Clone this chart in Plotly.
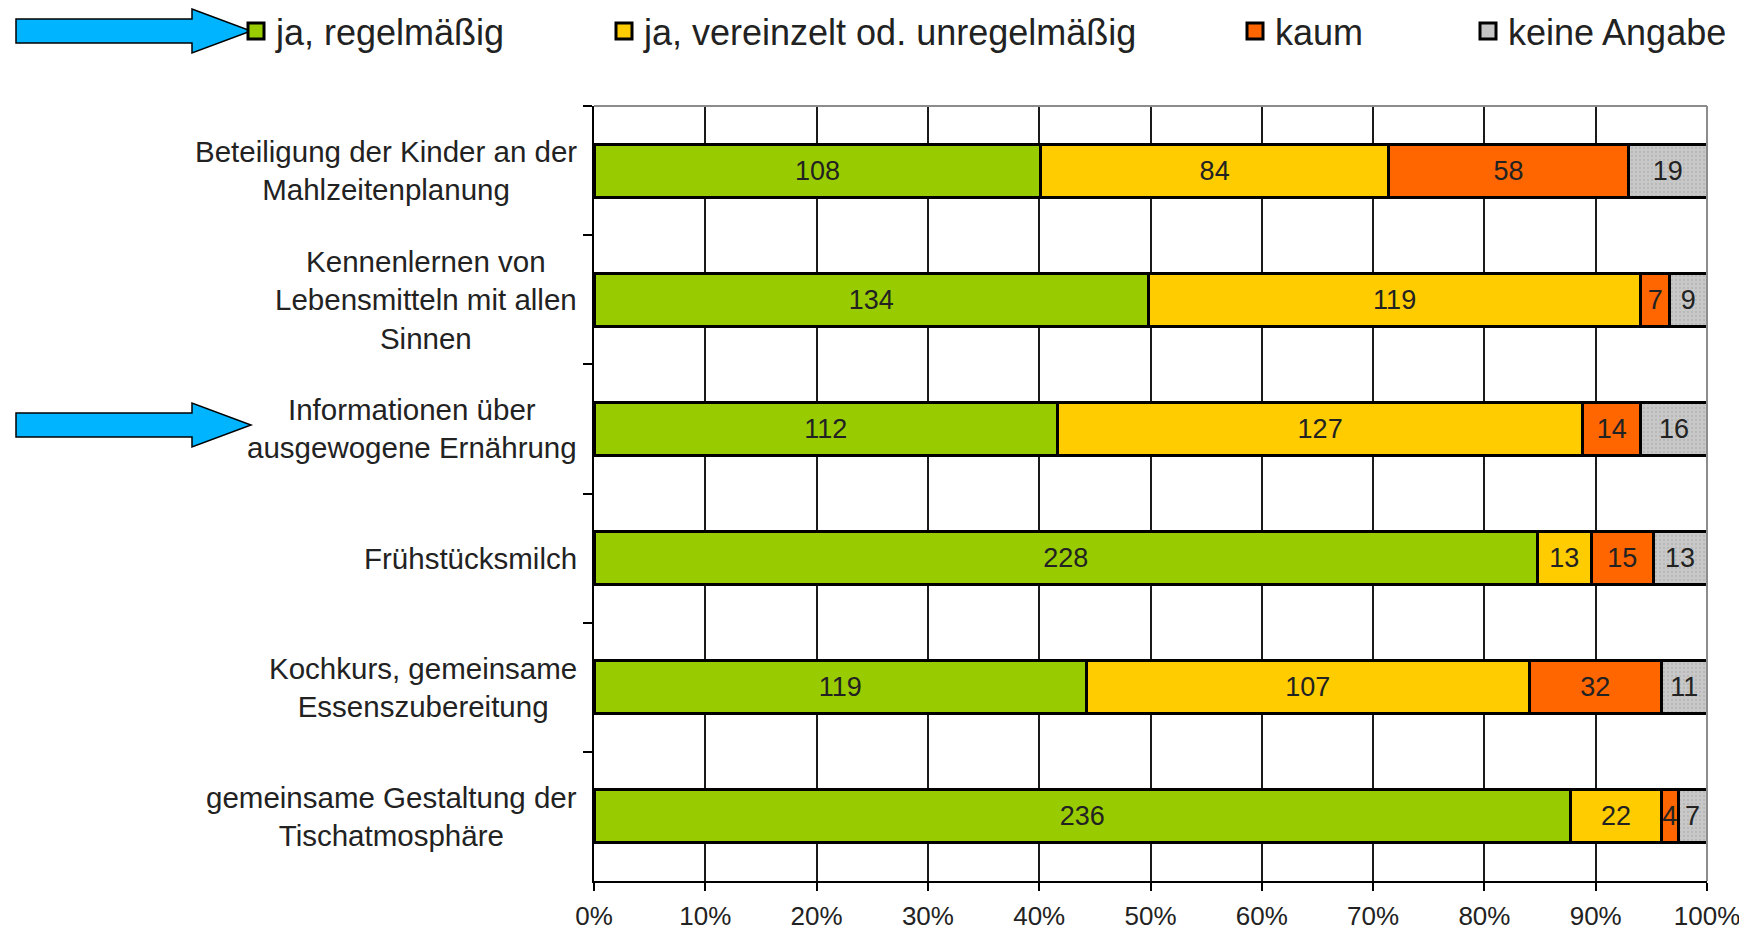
import plotly.graph_objects as go

# ---------------- data ----------------
categories = [
    "Beteiligung der Kinder an der<br>Mahlzeitenplanung",
    "Kennenlernen von<br>Lebensmitteln mit allen<br>Sinnen",
    "Informationen über<br>ausgewogene Ernährung",
    "Frühstücksmilch",
    "Kochkurs, gemeinsame<br>Essenszubereitung",
    "gemeinsame Gestaltung der<br>Tischatmosphäre",
]
series_names = ["ja, regelmäßig", "ja, vereinzelt od. unregelmäßig", "kaum", "keine Angabe"]
regelmaessig = [108, 134, 112, 228, 119, 236]
vereinzelt = [84, 119, 127, 13, 107, 22]
kaum = [58, 7, 14, 15, 32, 4]
keine_angabe = [19, 9, 16, 13, 11, 7]
x_tick_values = [0, 10, 20, 30, 40, 50, 60, 70, 80, 90, 100]
x_tick_labels = [f"{v}%" for v in x_tick_values]

# ---------------- style ----------------
colors = ["#99CC00", "#FFCC00", "#FF6600", "#C4C4C4"]
FONT = "Liberation Sans, Arial, sans-serif"
TXT = "#222222"
SCR_W, SCR_H = 1747, 932
OFF = 8                      # default body margin of the html page
W, H = SCR_W - OFF, SCR_H - OFF
L, R, T, B = 594, 1707, 106, 881   # plot box in screen pixels


def px(x):
    return (x - L) / (R - L)


def py(y):
    return (B - y) / (B - T)


fig = go.Figure()
values = [regelmaessig, vereinzelt, kaum, keine_angabe]
for i, (name, vals) in enumerate(zip(series_names, values)):
    marker = dict(color=colors[i], line=dict(color="black", width=3))
    if i == 3:
        marker["pattern"] = dict(shape=".", fgcolor="#A6A6A6", bgcolor="#C8C8C8",
                                 size=4, solidity=0.25)
    fig.add_trace(go.Bar(
        y=categories, x=vals, orientation="h", name=name,
        marker=marker, text=[str(v) for v in vals],
        textposition="inside", insidetextanchor="middle", textangle=0,
        constraintext="none",
        textfont=dict(family=FONT, size=27, color=TXT),
        showlegend=False, legendgroup=name,
    ))

# legend entries (one legend each, placed like the original)
legend_x = [px(236), px(604), px(1235), px(1468)]
for i, name in enumerate(series_names):
    lg = "legend" if i == 0 else f"legend{i+1}"
    fig.add_trace(go.Scatter(
        x=[None], y=[None], mode="markers", name=name, legendgroup=name,
        marker=dict(symbol="square", size=16, color=colors[i],
                    line=dict(color="black", width=3)),
        showlegend=True, legend=lg,
    ))

leg_common = dict(orientation="h", yanchor="middle", y=py(31), xanchor="left",
                  font=dict(family=FONT, size=36, color=TXT),
                  bgcolor="rgba(0,0,0,0)", borderwidth=0, itemclick=False)
layout_legends = {}
for i in range(4):
    key = "legend" if i == 0 else f"legend{i+1}"
    layout_legends[key] = dict(leg_common, x=legend_x[i])

# category labels (centred multi-line text like the original)
annotations = []
for c in categories:
    annotations.append(dict(
        x=0, xref="paper", y=c, yref="y", text=c, showarrow=False,
        xanchor="right", yanchor="middle", align="center", xshift=-15,
        font=dict(family=FONT, size=29.5, color=TXT),
    ))


def arrow(tip_x, tip_y):
    pts = [(16, tip_y - 12), (192, tip_y - 12), (192, tip_y - 22), (tip_x, tip_y),
           (192, tip_y + 22), (192, tip_y + 12), (16, tip_y + 12)]
    d = "M " + " L ".join(f"{px(a):.5f},{py(b):.5f}" for a, b in pts) + " Z"
    return dict(type="path", xref="paper", yref="paper", path=d,
                fillcolor="#00B4FF", line=dict(color="black", width=1.5), layer="above")


shapes = [
    arrow(251, 31),
    arrow(251, 425),
    # grey top and right frame
    dict(type="line", xref="paper", yref="paper", x0=0, x1=1, y0=1, y1=1,
         line=dict(color="#8C8C8C", width=2), layer="above"),
    dict(type="line", xref="paper", yref="paper", x0=1, x1=1, y0=0, y1=1,
         line=dict(color="#8C8C8C", width=2), layer="above"),
]

fig.update_layout(
    width=W, height=H,
    margin=dict(l=L - OFF, r=SCR_W - R, t=T - OFF, b=SCR_H - B, pad=0, autoexpand=False),
    paper_bgcolor="white", plot_bgcolor="white",
    barmode="stack", barnorm="percent", bargap=0.59,
    font=dict(family=FONT, color=TXT),
    xaxis=dict(
        range=[0, 100], tickmode="array", tickvals=x_tick_values, ticktext=x_tick_labels,
        showgrid=True, gridcolor="#1a1a1a", gridwidth=1.5,
        showline=True, linecolor="black", linewidth=1.5,
        ticks="outside", ticklen=8, tickwidth=1.5, tickcolor="black",
        ticklabelstandoff=3,
        tickfont=dict(family=FONT, size=26, color=TXT), zeroline=False,
        automargin=False, fixedrange=True,
    ),
    yaxis=dict(
        categoryorder="array", categoryarray=categories, autorange="reversed",
        showticklabels=False, tickson="boundaries", ticks="outside", ticklen=9,
        tickwidth=1.5, tickcolor="black", showgrid=False,
        showline=True, linecolor="black", linewidth=2, zeroline=False,
        automargin=False, fixedrange=True,
    ),
    annotations=annotations, shapes=shapes,
    **layout_legends,
)

fig.write_html("out.html")
